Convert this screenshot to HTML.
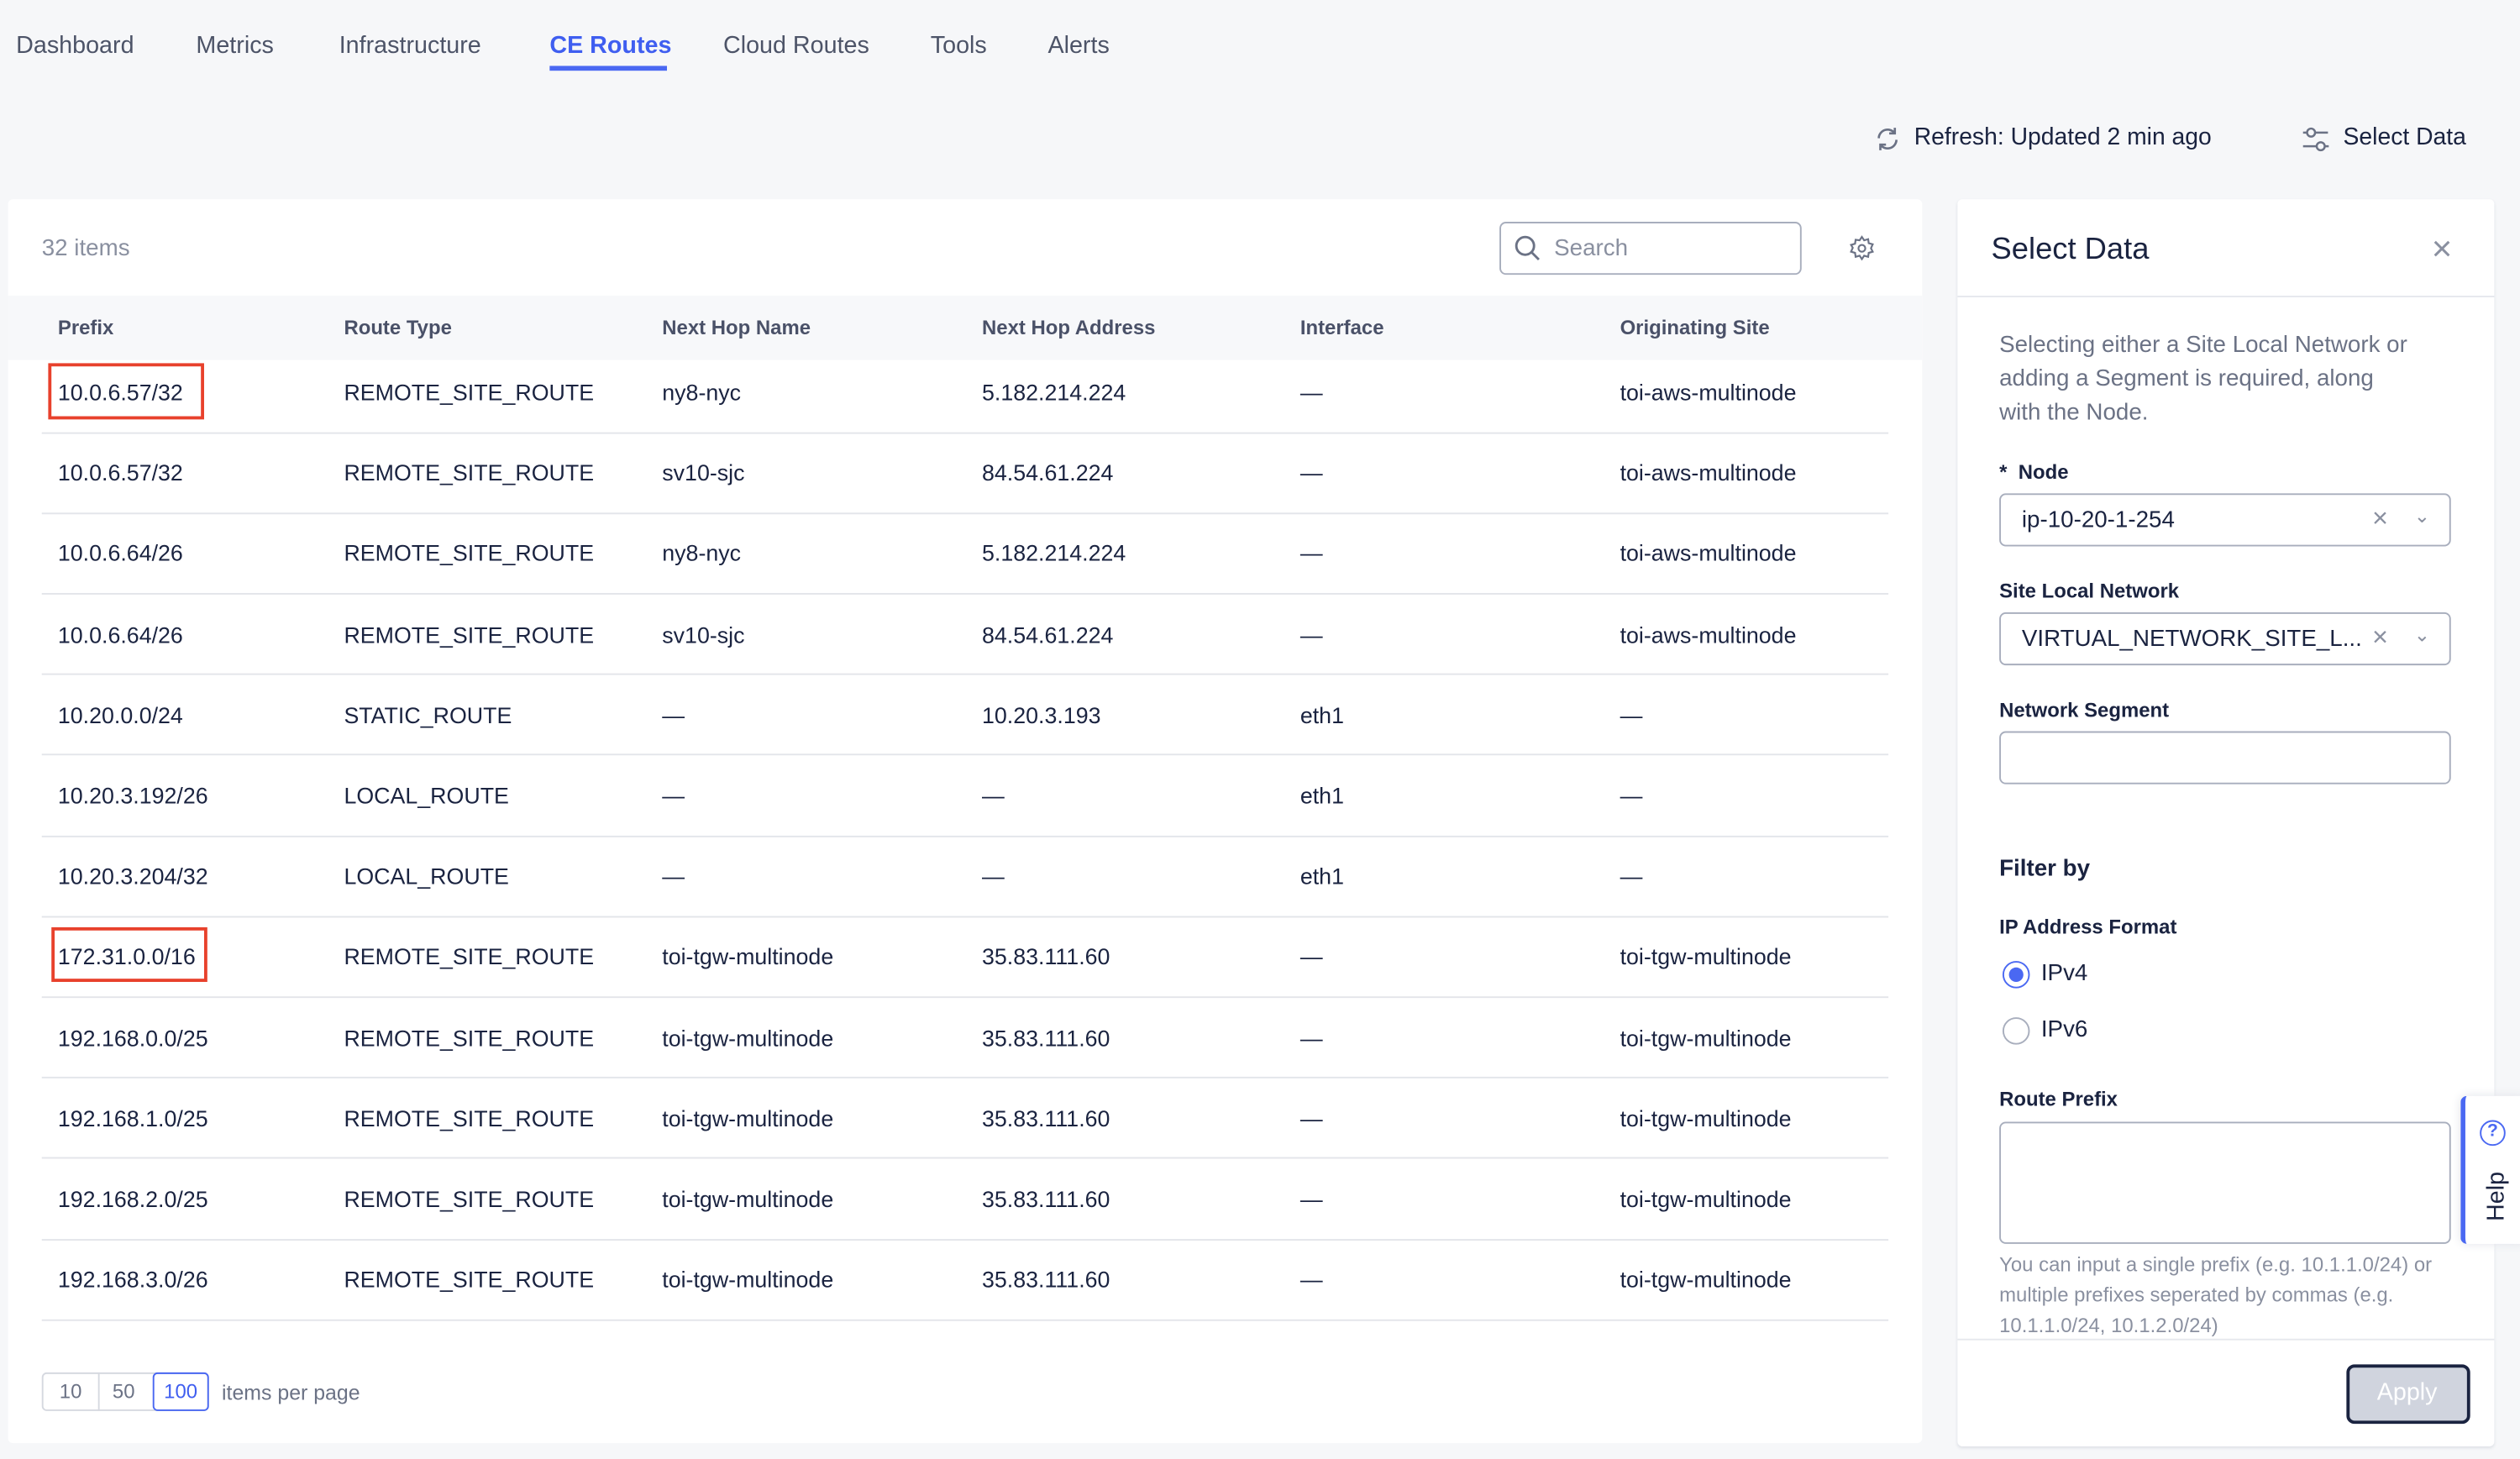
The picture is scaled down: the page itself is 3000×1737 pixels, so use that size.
<!DOCTYPE html>
<html><head><meta charset="utf-8">
<style>
*{box-sizing:border-box;margin:0;padding:0}
html,body{width:3000px;height:1737px;overflow:hidden;background:#f6f7f9}
#s{position:absolute;left:0;top:0;width:1568px;height:908px;transform:scale(1.91327);transform-origin:0 0;font-family:"Liberation Sans",sans-serif;color:#1a2340}
.a{position:absolute;white-space:nowrap}
.nav{top:20px;font-size:15px;color:#4d5468}
.card{position:absolute;left:5px;top:124px;width:1191px;height:774px;background:#fff;border-radius:3px}
.hdr{position:absolute;left:5px;top:184px;width:1191px;height:40px;background:#f7f8fa}
.th{top:197px;font-size:12.5px;font-weight:bold;color:#4a5168}
.td{font-size:14px;color:#1a2340}
.line{position:absolute;left:26px;width:1149px;height:1px;background:#e3e5ea}
.red{position:absolute;border:2px solid #e8412c}
.panel{position:absolute;left:1218px;top:124px;width:334px;height:776px;background:#fff;border-radius:3px;box-shadow:0 1px 2px #dde0e6}
.lab{font-size:12.5px;font-weight:bold;color:#1a2340}
.inp{position:absolute;left:1244px;width:281px;height:33px;border:1px solid #a8aebd;border-radius:4px;background:#fff}
</style></head><body><div id="s">
<div class="a nav" style="left:10px">Dashboard</div>
<div class="a nav" style="left:122px">Metrics</div>
<div class="a nav" style="left:211px">Infrastructure</div>
<div class="a nav" style="left:342px;color:#3f5ef0;font-weight:bold">CE Routes</div>
<div style="position:absolute;left:342px;top:41px;width:73px;height:3px;background:#4a68f2"></div>
<div class="a nav" style="left:450px">Cloud Routes</div>
<div class="a nav" style="left:579px">Tools</div>
<div class="a nav" style="left:652px">Alerts</div>

<svg class="a" style="left:1166px;top:78px" width="17" height="17" viewBox="0 0 17 17" fill="none" stroke="#6b7285" stroke-width="1.4"><path d="M3 8a5.5 5.5 0 0 1 10-3M14 9a5.5 5.5 0 0 1-10 3"/><path d="M13 1.5v3.5h-3.5M4 15.5V12h3.5"/></svg>
<div class="a" style="left:1191px;top:78px;font-size:14.8px">Refresh: Updated 2 min ago</div>
<svg class="a" style="left:1432px;top:78px" width="18" height="18" viewBox="0 0 18 18" fill="none" stroke="#6b7285" stroke-width="1.3"><circle cx="6" cy="4.5" r="2.5"/><path d="M1 4.5h2.5M8.5 4.5h8"/><circle cx="12" cy="13" r="2.5"/><path d="M1 13h8.5M14.5 13h2.5"/></svg>
<div class="a" style="left:1458px;top:78px;font-size:14.8px">Select Data</div>

<div class="card"></div>
<div class="a" style="left:26px;top:147px;font-size:14.5px;color:#8a90a0">32 items</div>
<div style="position:absolute;left:933px;top:138px;width:188px;height:33px;border:1px solid #a8aebd;border-radius:4px;background:#fff"></div>
<svg class="a" style="left:942px;top:146px" width="17" height="17" viewBox="0 0 17 17" fill="none" stroke="#6b7285" stroke-width="1.5"><circle cx="7" cy="7" r="5.5"/><path d="M11 11l4.5 4.5"/></svg>
<div class="a" style="left:967px;top:147px;font-size:14.5px;color:#8a90a0">Search</div>
<svg class="a" style="left:1150px;top:146px" width="17" height="17" viewBox="0 0 24 24" fill="none" stroke="#6b7285" stroke-width="1.6"><circle cx="12" cy="12" r="3"/><path d="M12 2l2 3 3.5-1 .5 3.5 3.5 1-1.5 3.5 1.5 3-3.5 1-.5 3.5-3.5-1-2 3-2-3-3.5 1-.5-3.5-3.5-1 1.5-3.5L2.5 9l3.5-1L6.5 4.5 10 5z"/></svg>
<div class="hdr"></div>
<div class="a th" style="left:36px">Prefix</div>
<div class="a th" style="left:214px">Route Type</div>
<div class="a th" style="left:412px">Next Hop Name</div>
<div class="a th" style="left:611px">Next Hop Address</div>
<div class="a th" style="left:809px">Interface</div>
<div class="a th" style="left:1008px">Originating Site</div>

<div id="rows"></div>
<script>
var d=[["10.0.6.57/32","REMOTE_SITE_ROUTE","ny8-nyc","5.182.214.224","—","toi-aws-multinode"],
["10.0.6.57/32","REMOTE_SITE_ROUTE","sv10-sjc","84.54.61.224","—","toi-aws-multinode"],
["10.0.6.64/26","REMOTE_SITE_ROUTE","ny8-nyc","5.182.214.224","—","toi-aws-multinode"],
["10.0.6.64/26","REMOTE_SITE_ROUTE","sv10-sjc","84.54.61.224","—","toi-aws-multinode"],
["10.20.0.0/24","STATIC_ROUTE","—","10.20.3.193","eth1","—"],
["10.20.3.192/26","LOCAL_ROUTE","—","—","eth1","—"],
["10.20.3.204/32","LOCAL_ROUTE","—","—","eth1","—"],
["172.31.0.0/16","REMOTE_SITE_ROUTE","toi-tgw-multinode","35.83.111.60","—","toi-tgw-multinode"],
["192.168.0.0/25","REMOTE_SITE_ROUTE","toi-tgw-multinode","35.83.111.60","—","toi-tgw-multinode"],
["192.168.1.0/25","REMOTE_SITE_ROUTE","toi-tgw-multinode","35.83.111.60","—","toi-tgw-multinode"],
["192.168.2.0/25","REMOTE_SITE_ROUTE","toi-tgw-multinode","35.83.111.60","—","toi-tgw-multinode"],
["192.168.3.0/26","REMOTE_SITE_ROUTE","toi-tgw-multinode","35.83.111.60","—","toi-tgw-multinode"]];
var xs=[36,214,412,611,809,1008],h="";
d.forEach(function(r,i){var y=244+i*50.2;r.forEach(function(c,j){h+='<div class="a td" style="left:'+xs[j]+'px;top:'+(y-8)+'px">'+c+'</div>';});h+='<div class="line" style="top:'+(y+24.5)+'px"></div>';});
document.getElementById("rows").innerHTML=h;
</script>
<div class="red" style="left:30px;top:226px;width:97px;height:35px"></div>
<div class="red" style="left:32px;top:577px;width:97px;height:34px"></div>

<div style="position:absolute;left:26px;top:854px;width:104px;height:24px;border:1px solid #d6d9e0;border-radius:3px"></div>
<div style="position:absolute;left:61px;top:854px;width:1px;height:24px;background:#d6d9e0"></div>
<div style="position:absolute;left:95px;top:854px;width:35px;height:24px;border:1px solid #4a68f2;border-radius:3px"></div>
<div class="a" style="left:37px;top:859px;font-size:12.5px;color:#6b7285">10</div>
<div class="a" style="left:70px;top:859px;font-size:12.5px;color:#6b7285">50</div>
<div class="a" style="left:102px;top:859px;font-size:12.5px;color:#3f5ef0">100</div>
<div class="a" style="left:138px;top:859px;font-size:13px;color:#6b7285">items per page</div>

<div class="panel"></div>
<div class="a" style="left:1239px;top:145px;font-size:19px">Select Data</div>
<div class="a" style="left:1513px;top:142px;font-size:22px;color:#8a90a0">×</div>
<div style="position:absolute;left:1218px;top:184px;width:334px;height:1px;background:#e6e8ed"></div>
<div class="a" style="left:1244px;top:205px;font-size:14.5px;color:#6b7285;line-height:21px;white-space:normal;width:262px">Selecting either a Site Local Network or adding a Segment is required, along with the Node.</div>
<div class="a lab" style="left:1244px;top:287px">*&nbsp; Node</div>
<div class="inp" style="top:307px"></div>
<div class="a" style="left:1258px;top:316px;font-size:14.5px">ip-10-20-1-254</div>
<div class="a" style="left:1476px;top:313px;font-size:17px;color:#8a90a0">×</div>
<div class="a" style="left:1502px;top:314px;font-size:12px;color:#8a90a0">⌄</div>
<div class="a lab" style="left:1244px;top:361px">Site Local Network</div>
<div class="inp" style="top:381px"></div>
<div class="a" style="left:1258px;top:390px;font-size:14.5px">VIRTUAL_NETWORK_SITE_L...</div>
<div class="a" style="left:1476px;top:387px;font-size:17px;color:#8a90a0">×</div>
<div class="a" style="left:1502px;top:388px;font-size:12px;color:#8a90a0">⌄</div>
<div class="a lab" style="left:1244px;top:435px">Network Segment</div>
<div class="inp" style="top:455px"></div>
<div class="a" style="left:1244px;top:533px;font-size:14.5px;font-weight:bold">Filter by</div>
<div class="a lab" style="left:1244px;top:570px">IP Address Format</div>
<div style="position:absolute;left:1246px;top:598px;width:17px;height:17px;border-radius:50%;border:1px solid #4a68f2;background:#fff"><div style="margin:3px;width:9px;height:9px;border-radius:50%;background:#4a68f2"></div></div>
<div class="a" style="left:1270px;top:598px;font-size:14.5px">IPv4</div>
<div style="position:absolute;left:1246px;top:633px;width:17px;height:17px;border-radius:50%;border:1px solid #a8aebd;background:#fff"></div>
<div class="a" style="left:1270px;top:633px;font-size:14.5px">IPv6</div>
<div class="a lab" style="left:1244px;top:677px">Route Prefix</div>
<div class="inp" style="top:698px;height:76px"></div>
<div class="a" style="left:1244px;top:778px;font-size:12.5px;color:#8a90a0;line-height:19px;white-space:normal;width:290px">You can input a single prefix (e.g. 10.1.1.0/24) or multiple prefixes seperated by commas (e.g. 10.1.1.0/24, 10.1.2.0/24)</div>
<div style="position:absolute;left:1218px;top:833px;width:334px;height:1px;background:#e6e8ed"></div>
<div style="position:absolute;left:1460px;top:849px;width:77px;height:37px;border:2px solid #1a2340;border-radius:5px;background:#d0d4de"></div>
<div class="a" style="left:1479px;top:858px;font-size:15px;color:#fff">Apply</div>

<div style="position:absolute;left:1531px;top:682px;width:40px;height:92px;background:#fff;border-left:3px solid #4a68f2;border-radius:4px 0 0 4px;box-shadow:0 0 6px #e3e5ea"></div>
<div style="position:absolute;left:1543px;top:697px;width:16px;height:16px;border-radius:50%;border:1.5px solid #4a68f2;font-size:11px;color:#4a68f2;text-align:center;line-height:13px;font-weight:bold">?</div>
<div class="a" style="left:1538px;top:736px;font-size:15px;transform:rotate(-90deg);transform-origin:center;color:#1a2340">Help</div>
</div></body></html>
